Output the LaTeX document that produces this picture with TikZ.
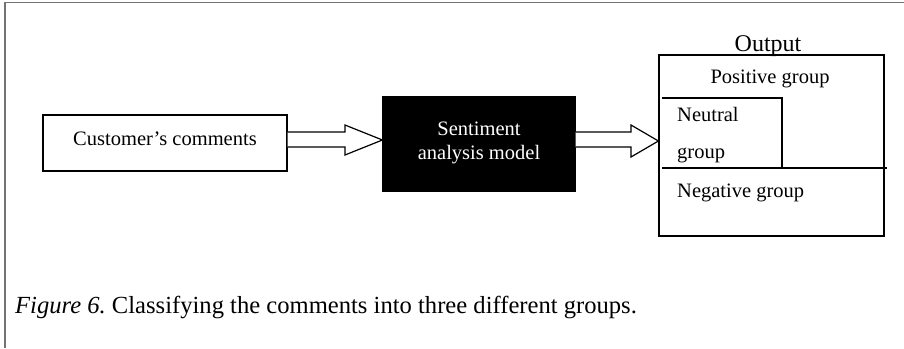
\documentclass[tikz,border=0pt]{standalone}
\usepackage{fontspec}
\setmainfont{Liberation Serif}
\usetikzlibrary{calc}
\begin{document}
\begin{tikzpicture}[x=1pt,y=-1pt,
  box/.style={draw=black,line width=1.2pt,inner sep=0pt,minimum width=#1},
  lbl/.style={inner sep=0pt,anchor=base,font=\fontsize{20.5}{24}\selectfont},
  lbll/.style={inner sep=0pt,anchor=base west,font=\fontsize{20.5}{24}\selectfont},
  blockarrow/.style={draw=black,line width=1.2pt,fill=white,line join=miter}]
\useasboundingbox (0,0) rectangle (904,348);
\fill[white] (0,0) rectangle (904,348);
% frame
\draw[gray!90!black,line width=1.5pt] (5,348) -- (5,2.5) -- (904,2.5);
% nodes
\node[box=244pt,minimum height=56pt] (cc) at (165,143) {};
\node[lbl] (cct) at (165,145) {Customer’s comments};
\node[box=192pt,minimum height=94pt,fill=black] (sam) at (479,144) {};
\node[lbl,text=white] (samt1) at (479,135) {Sentiment};
\node[lbl,text=white] (samt2) at (479,159) {analysis model};
\node[box=225pt,minimum height=181pt] (out) at (771.5,145.5) {};
\node[inner sep=0pt,anchor=base,font=\fontsize{24}{28}\selectfont] (outt) at (768,51) {Output};
\node[lbl] (pos) at (770,83) {Positive group};
\node[lbll] (neu1) at (677,121) {Neutral};
\node[lbll] (neu2) at (677,158) {group};
\node[lbll] (neg) at (677,197) {Negative group};
% neutral box and separator
\coordinate (nA) at (662,98);
\coordinate (nB) at (782,98);
\coordinate (nC) at (782,168);
\coordinate (sL) at (662,168);
\coordinate (sR) at (887,168);
\draw[line width=1.2pt] (nA) -- (nB) -- (nC);
\draw[line width=1.2pt] (sL) -- (sR);
% block arrows
\coordinate (a1s) at (cc.east |- 0,139.5);
\coordinate (a1t) at (sam.west |- 0,140);
\draw[blockarrow] ($(a1s)+(0,-7.5)$) -- (345,132) -- (345,125) -- (a1t) -- (345,155) -- (345,147) -- ($(a1s)+(0,7.5)$);
\coordinate (a2s) at (sam.east |- 0,139.5);
\coordinate (a2t) at (out.west |- 0,141);
\draw[blockarrow] ($(a2s)+(0,-7.5)$) -- (631,132) -- (631,125) -- (a2t) -- (631,157) -- (631,147) -- ($(a2s)+(0,7.5)$);
% caption
\node[inner sep=0pt,anchor=base west,font=\fontsize{24.6}{28}\selectfont] (cap) at (15,313) {\textit{Figure 6.}\ Classifying the comments into three different groups.};
\end{tikzpicture}
\end{document}
